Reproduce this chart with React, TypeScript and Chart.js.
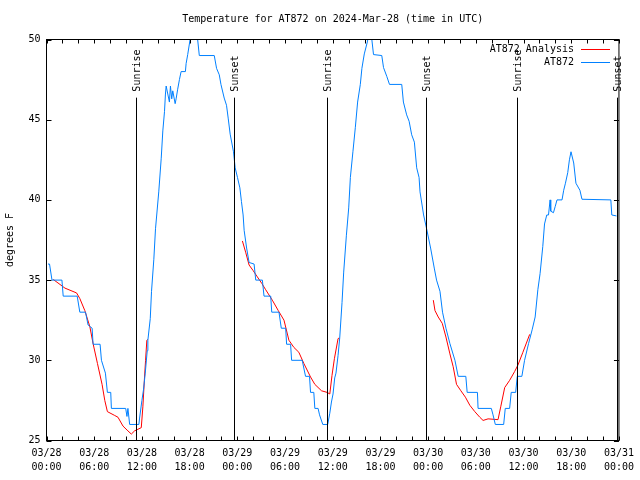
import React, { useEffect, useRef } from "react";
import { Chart, registerables } from "chart.js";

Chart.register(...registerables);

// Hours since 2024-03-28 00:00 UTC
const stationHours = [
  0.19, 0.38, 0.69, 1.94, 2.10, 3.86, 4.19, 4.91, 5.23, 5.74, 5.86, 6.74, 6.91, 7.41, 7.66, 8.08, 8.16,
  9.96, 10.12, 10.24, 10.46, 11.62, 11.71, 12.00, 12.21, 12.42, 12.67, 12.75, 13.05, 13.21, 13.50, 13.71,
  14.12, 14.43, 14.63, 14.84, 14.96, 15.05, 15.46, 15.59, 15.75, 15.88, 16.18, 16.30, 16.50, 16.72, 16.93,
  17.47, 17.56, 17.76, 18.06, 18.22, 18.85, 19.01, 19.22, 21.10, 21.39, 21.73, 21.94, 22.35, 22.64, 22.85,
  23.10, 23.52, 23.73, 24.02, 24.32, 24.52, 24.73, 24.86, 25.17, 25.48, 26.11, 26.32, 27.15, 27.36, 28.20,
  28.33, 29.24, 29.53, 30.08, 30.20, 30.70, 30.83, 32.16, 32.58, 33.08, 33.21, 33.62, 33.75, 34.16, 34.34,
  34.75, 35.37, 35.63, 35.84, 36.04, 36.25, 36.41, 36.67, 36.88, 37.17, 37.38, 37.72, 38.01, 38.22, 38.54,
  38.84, 39.13, 39.47, 39.67, 39.97, 40.38, 40.51, 40.82, 40.92, 41.13, 42.17, 42.39, 42.80, 43.14, 44.68,
  44.89, 45.30, 45.61, 45.93, 46.27, 46.56, 46.86, 46.98, 47.43, 47.81, 48.31, 48.77, 49.06, 49.49, 49.81,
  50.24, 50.74, 51.37, 51.78, 52.74, 52.91, 54.20, 54.28, 55.95, 56.16, 56.45, 57.50, 57.70, 58.25, 58.45,
  59.01, 59.21, 59.79, 60.13, 60.63, 61.08, 61.46, 61.80, 62.08, 62.42, 62.64, 62.92, 63.14, 63.34, 63.42,
  63.76, 63.99, 64.21, 64.84, 65.05, 65.27, 65.56, 65.77, 65.97, 66.06, 66.31, 66.59, 67.09, 67.35, 70.98,
  71.10, 71.69,
];
const stationTemps = [
  36, 36, 35, 35, 34, 34, 33, 33, 32.2, 32, 31, 31, 30, 29.2, 28, 28, 27,
  27, 26.5, 27, 26, 26, 26.4, 27.5, 28.2, 29.2, 30.6, 31.25, 32.6, 34.3, 36.3, 38.2,
  40.5, 42.6, 44.3, 45.5, 46.6, 47.1, 46.1, 47.1, 46.3, 46.8, 46.0, 46.3, 46.9, 47.5, 48.0,
  48.0, 48.5, 49.06, 50, 50.5, 50.5, 50, 49, 49, 48.2, 47.8, 47.2, 46.35, 45.9, 45.1,
  44.1, 43, 42, 41.4, 40.75, 39.9, 39.06, 38.1, 37, 36.1, 36, 35, 35, 34, 34,
  33, 33, 32, 32, 31, 31, 30, 30, 29, 29, 28, 28, 27, 27, 26.6,
  26, 26, 26.7, 27.4, 27.9, 28.9, 29.2, 30.3, 31.4, 33.6, 35.5, 37.8, 39.5, 41.4, 43,
  44.5, 46.1, 47.2, 48.2, 49.1, 49.9, 50.5, 50.5, 50, 49.06, 49, 48.25, 47.7, 47.2, 47.2,
  46.1, 45.3, 44.9, 44.06, 43.6, 42, 41.4, 40.5, 39.06, 38.2, 37, 35.75, 35, 34.3, 33,
  32, 31.04, 30, 29, 29, 28, 28, 27, 27, 26.6, 26, 26, 27, 27, 28,
  28, 29, 29, 30, 31.04, 31.9, 32.7, 34.4, 35.4, 37.1, 38.5, 39.06, 39.06, 40, 39.3,
  39.2, 39.6, 40, 40, 40.6, 41.04, 41.7, 42.5, 43, 43, 42.3, 41.04, 40.6, 40.04, 40,
  39.06, 39,
];

// null temperatures break the analysis line between runs
const analysisHours = [
  0.85, 2.32, 3.78, 4.19, 4.82, 5.45, 5.86, 6.41, 6.99, 7.33, 7.66, 8.58, 8.99, 9.62, 10.24, 10.67,
  11.08, 11.50, 11.92, 12.12, 12.33, 12.46, 12.62, 12.75,
  18.0,
  24.64, 25.07, 25.48, 25.98, 26.52, 27.07, 27.57, 28.40, 29.15, 29.87, 30.49, 31.12, 31.74, 32.37,
  33.21, 33.75, 34.59, 35.29, 35.63, 35.91, 36.21, 36.67, 36.84,
  42.0,
  48.65, 48.86, 49.27, 49.78, 50.24, 50.74, 51.15, 51.57, 52.12, 52.69, 53.24, 53.87, 54.50, 54.91,
  55.54, 56.79, 57.13, 57.63, 58.25, 58.88, 59.29, 59.92, 60.76, 60.83,
];
const analysisTemps = [
  35.04, 34.5, 34.2, 33.85, 33.1, 32.1, 31.04, 29.8, 28.5, 27.5, 26.8, 26.56, 26.45, 25.9, 25.6, 25.4,
  25.6, 25.7, 25.8, 27.1, 28.96, 30, 31.25, 31.3,
  null,
  37.44, 36.7, 35.94, 35.6, 35.2, 34.8, 34.4, 33.75, 33.1, 32.5, 31.25, 30.8, 30.5, 29.8,
  28.96, 28.5, 28.1, 28.0, 27.9, 29.06, 30.1, 31.35, 31.4,
  null,
  33.75, 33.1, 32.7, 32.3, 31.45, 30.4, 29.6, 28.5, 28.1, 27.7, 27.2, 26.8, 26.45, 26.25,
  26.35, 26.3, 27.1, 28.3, 28.75, 29.3, 29.7, 30.5, 31.6, 31.6,
];

const xTickDates = ["03/28", "03/28", "03/28", "03/28", "03/29", "03/29", "03/29", "03/29", "03/30", "03/30", "03/30", "03/30", "03/31"];
const xTickTimes = ["00:00", "06:00", "12:00", "18:00", "00:00", "06:00", "12:00", "18:00", "00:00", "06:00", "12:00", "18:00", "00:00"];

const sunEventHours = [11.24, 23.64, 35.29, 47.68, 59.2, 71.73];
const sunEventLabels = ["Sunrise", "Sunset", "Sunrise", "Sunset", "Sunrise", "Sunset"];

const titleText = "Temperature for AT872 on 2024-Mar-28 (time in UTC)";
const yAxisTitle = "degrees F";
const seriesNames = ["AT872 Analysis", "AT872"];
const seriesColors = ["#ff0000", "#0080ff"];

const FONT = "'DejaVu Sans Mono', monospace";

const gnuplotPlugin = {
  id: "gnuplotDecor",
  beforeDraw(chart: any) {
    const { ctx, width, height } = chart;
    ctx.save();
    ctx.fillStyle = "#ffffff";
    ctx.fillRect(0, 0, width, height);
    ctx.restore();
  },
  afterDatasetsDraw(chart: any) {
    const { ctx, chartArea: a } = chart;
    const xs = chart.scales.x;
    const ys = chart.scales.y;
    ctx.save();
    ctx.strokeStyle = "#000";
    ctx.lineWidth = 1;
    ctx.fillStyle = "#000";
    ctx.font = `10px ${FONT}`;

    // sunrise / sunset markers
    const lineTop = a.top + (a.bottom - a.top) * 0.145;
    const labelStart = a.top + (a.bottom - a.top) * 0.13;
    sunEventHours.forEach((h, i) => {
      const px = Math.round(xs.getPixelForValue(h)) + 0.5;
      ctx.beginPath();
      ctx.moveTo(px, lineTop);
      ctx.lineTo(px, a.bottom);
      ctx.stroke();
      ctx.save();
      ctx.translate(px + 1, labelStart);
      ctx.rotate(-Math.PI / 2);
      ctx.textAlign = "left";
      ctx.textBaseline = "middle";
      ctx.fillText(sunEventLabels[i], 0, 0);
      ctx.restore();
    });

    // border
    ctx.strokeRect(a.left, a.top, a.right - a.left, a.bottom - a.top);

    // inward ticks (mirrored)
    ctx.beginPath();
    for (let h = 0; h <= 72; h += 2) {
      const px = Math.round(xs.getPixelForValue(h)) + 0.5;
      ctx.moveTo(px, a.bottom);
      ctx.lineTo(px, a.bottom - 4);
      ctx.moveTo(px, a.top);
      ctx.lineTo(px, a.top + 4);
    }
    for (let v = 25; v <= 50; v += 5) {
      const py = Math.round(ys.getPixelForValue(v)) + 0.5;
      ctx.moveTo(a.left, py);
      ctx.lineTo(a.left + 5, py);
      ctx.moveTo(a.right, py);
      ctx.lineTo(a.right - 5, py);
    }
    ctx.stroke();

    // title
    ctx.textAlign = "center";
    ctx.textBaseline = "middle";
    ctx.fillText(titleText, (a.left + a.right) / 2, 19.5);

    // y-axis title
    ctx.save();
    ctx.translate(10, (a.top + a.bottom) / 2);
    ctx.rotate(-Math.PI / 2);
    ctx.fillText(yAxisTitle, 0, 0);
    ctx.restore();

    // legend
    ctx.textAlign = "right";
    seriesNames.forEach((name, i) => {
      const ly = 49.5 + i * 13;
      ctx.fillStyle = "#000";
      ctx.fillText(name, 574, ly);
      ctx.strokeStyle = seriesColors[i];
      ctx.beginPath();
      ctx.moveTo(581, ly);
      ctx.lineTo(610, ly);
      ctx.stroke();
    });
    ctx.restore();
  },
};

export default function App() {
  const canvasRef = useRef<HTMLCanvasElement | null>(null);

  useEffect(() => {
    const canvas = canvasRef.current;
    if (!canvas) return;
    const stationData = stationHours.map((h, i) => ({ x: h, y: stationTemps[i] }));
    const analysisData = analysisHours.map((h, i) => ({ x: h, y: analysisTemps[i] }));

    const chart = new Chart(canvas, {
      type: "line",
      data: {
        datasets: [
          {
            label: seriesNames[1],
            data: stationData,
            borderColor: seriesColors[1],
            borderWidth: 1,
            pointRadius: 0,
            tension: 0,
            fill: false,
          },
          {
            label: seriesNames[0],
            data: analysisData as any,
            borderColor: seriesColors[0],
            borderWidth: 1,
            pointRadius: 0,
            tension: 0,
            fill: false,
            spanGaps: false,
          },
        ],
      },
      options: {
        animation: false,
        responsive: false,
        devicePixelRatio: 1,
        layout: { padding: { top: 39.5, right: 18.5, left: 0, bottom: 0 } },
        plugins: {
          legend: { display: false },
          title: { display: false },
          tooltip: { enabled: false },
        },
        scales: {
          x: {
            type: "linear",
            min: 0,
            max: 72,
            grid: { display: false, drawTicks: false },
            border: { display: false },
            afterFit: (scale: any) => {
              scale.height = 39.5;
            },
            ticks: {
              stepSize: 6,
              autoSkip: false,
              maxRotation: 0,
              minRotation: 0,
              padding: 6,
              color: "#000",
              font: { family: FONT, size: 10, lineHeight: 1.4 },
              callback: (value: any) => {
                const i = Math.round(Number(value) / 6);
                return [xTickDates[i], xTickTimes[i]];
              },
            },
          },
          y: {
            type: "linear",
            min: 25,
            max: 50,
            grid: { display: false, drawTicks: false },
            border: { display: false },
            afterFit: (scale: any) => {
              scale.width = 46.5;
            },
            ticks: {
              stepSize: 5,
              padding: 6,
              color: "#000",
              font: { family: FONT, size: 10 },
            },
          },
        },
      },
      plugins: [gnuplotPlugin],
    });
    return () => chart.destroy();
  }, []);

  return (
    <canvas
      ref={canvasRef}
      width={640}
      height={480}
      style={{ position: "absolute", left: 0, top: 0, display: "block" }}
    />
  );
}
